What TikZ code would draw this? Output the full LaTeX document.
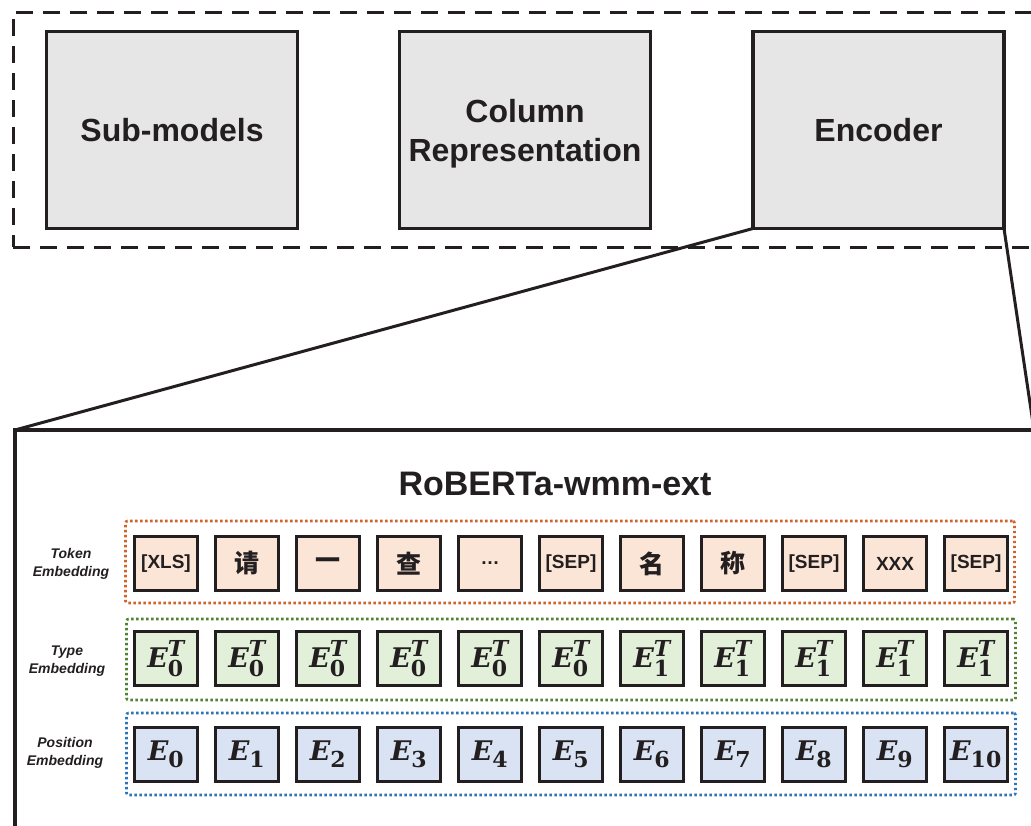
\documentclass[tikz,border=0pt]{standalone}
\usepackage{fix-cm}
\usepackage{amsmath}
\usepackage[no-math]{fontspec}
\setmainfont{Liberation Sans}
\newfontfamily\cjk{Noto Sans CJK SC}
\newfontfamily\dvs{DejaVu Serif}
\DeclareMathSizes{27}{27}{22}{16}
\newcommand{\mE}{\text{\dvs\bfseries\itshape E}}
\newcommand{\mT}{\text{\dvs\bfseries\itshape T}}
\newcommand{\mD}[1]{\text{\dvs\bfseries #1}}
\definecolor{grayfill}{HTML}{E7E6E6}
\definecolor{tokfill}{HTML}{FBE5D6}
\definecolor{typefill}{HTML}{E2F0D9}
\definecolor{posfill}{HTML}{DAE3F3}
\definecolor{orangedot}{HTML}{D0622A}
\definecolor{greendot}{HTML}{548235}
\definecolor{bluedot}{HTML}{2E75B6}
\definecolor{ink}{HTML}{231F20}
\tikzset{
  outerbox/.style={draw=ink, line width=3pt, dash pattern=on 17pt off 10pt, outer sep=0pt, inner sep=0pt},
  bigbox/.style={draw=ink, line width=3.5pt, outer sep=0pt, inner sep=0pt},
  graybox/.style={draw=ink, fill=grayfill, line width=3.5pt, outer sep=0pt,
    minimum width=251pt, minimum height=197pt, align=center,
    font=\fontsize{32}{39}\selectfont\bfseries, text=ink},
  conn/.style={draw=ink, line width=3pt},
  cell/.style={draw=ink, line width=3pt, outer sep=0pt, minimum width=63pt, minimum height=54pt, inner sep=0pt, text=ink},
  tokcell/.style={cell, fill=tokfill, font=\fontsize{19}{22}\selectfont\bfseries},
  cjkcell/.style={cell, fill=tokfill, font=\cjk\fontsize{25}{26}\selectfont\bfseries},
  typecell/.style={cell, fill=typefill, font=\fontsize{27}{28}\selectfont},
  poscell/.style={cell, fill=posfill, font=\fontsize{27}{28}\selectfont},
  dotbox/.style={line width=2.6pt, dash pattern=on 2.4pt off 2.6pt, rounded corners=2pt, minimum width=889pt, inner sep=0pt, outer sep=0pt},
  rowlabel/.style={align=center, font=\fontsize{14}{18}\selectfont\bfseries\itshape, text=ink},
  title/.style={font=\fontsize{34}{36}\selectfont\bfseries, text=ink}
}
\begin{document}
\begin{tikzpicture}[x=1pt,y=-1pt]
\useasboundingbox (0,0) rectangle (1031,825);
\clip (0,0) rectangle (1031,825);
% upper dashed frame
\node[outerbox, anchor=north west, minimum width=1040pt, minimum height=235pt] (outer) at (13,12) {};
% top boxes
\node[graybox] (sub) at (172,130) {Sub-models};
\node[graybox, text depth=0pt] (col) at (525,130) {Column\\Representation};
\node[graybox] (enc) at (878.5,130) {Encoder};
% zoomed frame
\node[bigbox, anchor=north west, minimum width=1019pt, minimum height=420pt] (big) at (15,430) {};
\draw[conn] (enc.south west) -- (big.north west);
\draw[conn] (enc.south east) -- (big.north east);
% title
\node[title] (ttl) at (555,484) {RoBERTa-wmm-ext};
% dotted groups
\node[dotbox, draw=orangedot, minimum height=82pt] (tokgrp) at (570,562) {};
\node[dotbox, draw=greendot, minimum height=81pt] (typegrp) at (571,659.5) {};
\node[dotbox, draw=bluedot, minimum height=82pt] (posgrp) at (571,754) {};
% row labels
\node[rowlabel] (toklab) at (71,564) {Token\\Embedding};
\node[rowlabel] (typelab) at (67,661) {Type\\Embedding};
\node[rowlabel] (poslab) at (65,753) {Position\\Embedding};
% token cells
\node[tokcell] (tok0) at (166,563.5) {[XLS]};
\node[cjkcell] (tok1) at (247,563.5) {请};
\node[cjkcell] (tok2) at (328,563.5) {一};
\node[cjkcell] (tok3) at (409,563.5) {查};
\node[tokcell] (tok4) at (490,563.5) {…};
\node[tokcell] (tok5) at (571,563.5) {[SEP]};
\node[cjkcell] (tok6) at (652,563.5) {名};
\node[cjkcell] (tok7) at (733,563.5) {称};
\node[tokcell] (tok8) at (814,563.5) {[SEP]};
\node[tokcell] (tok9) at (895,563.5) {XXX};
\node[tokcell] (tok10) at (976,563.5) {[SEP]};
% type cells
\foreach \i in {0,...,5}{
  \node[typecell] (type\i) at (166+81*\i,658.5) {$\mE^{\mT}_{\mD{0}}$};
}
\foreach \i in {6,...,10}{
  \node[typecell] (type\i) at (166+81*\i,658.5) {$\mE^{\mT}_{\mD{1}}$};
}
% position cells
\foreach \i in {0,...,10}{
  \node[poscell] (pos\i) at (166+81*\i,754.5) {$\mE_{\mD{\i}}$};
}
\end{tikzpicture}
\end{document}
